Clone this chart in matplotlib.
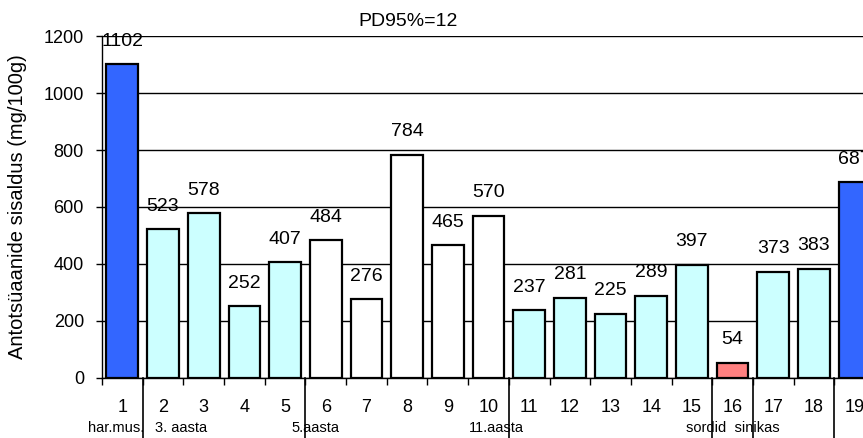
import matplotlib
matplotlib.use("Agg")
import matplotlib.pyplot as plt
import matplotlib.transforms as mtransforms

plt.rcParams['font.family'] = ['Liberation Sans', 'DejaVu Sans']

# Sample numbers and anthocyanin content
categories = [str(i) for i in range(1, 20)]
values = [1102, 523, 578, 252, 407, 484, 276, 784, 465, 570,
          237, 281, 225, 289, 397, 54, 373, 383, 687]
bar_colors = ['#3366FF'] + ['#CCFFFF'] * 4 + ['#FFFFFF'] * 5 + ['#CCFFFF'] * 5 \
             + ['#FF8080'] + ['#CCFFFF'] * 2 + ['#3366FF']

# Group captions under the axis and their centre positions (in category units)
group_labels = ['har.mus.', '3. aasta', '5.aasta', '11.aasta', 'sordid  sinikas']
group_pos = [0.85, 2.45, 5.75, 10.2, 16.0]
# Category boundaries where the group separators are drawn
separators = [1.5, 5.5, 10.5, 15.5, 16.5, 18.5]

title_text = 'PD95%=12'
y_label = 'Antotsüaanide sisaldus (mg/100g)'
y_ticks = [0, 200, 400, 600, 800, 1000, 1200]

fig = plt.figure(figsize=(8.63, 4.38), dpi=100)
ax = fig.add_axes([0.1182, 0.1370, 0.8957, 0.7808])

x = list(range(1, len(values) + 1))
ax.bar(x, values, width=0.78, color=bar_colors, edgecolor='black',
       linewidth=1.6, zorder=3)

for xi, v in zip(x, values):
    ax.annotate(str(v), (xi, v), xytext=(0, 16.5), textcoords='offset points',
                ha='center', va='center', fontsize=14, zorder=4,
                annotation_clip=False)

ax.set_xlim(0.5, 19.5)
ax.set_ylim(0, 1200)
ax.set_yticks(y_ticks)
ax.set_yticklabels([str(t) for t in y_ticks], fontsize=13)
ax.tick_params(axis='y', direction='out', length=4, width=1, pad=9)

ax.set_xticks(x)
ax.set_xticklabels(categories, fontsize=13)
ax.tick_params(axis='x', which='major', length=0, pad=15)
ax.set_xticks([b + 0.5 for b in range(0, 20)], minor=True)
ax.tick_params(axis='x', which='minor', direction='out', length=5, width=1)

ax.grid(axis='y', color='black', linewidth=1.0, zorder=0)
ax.set_axisbelow(True)
for side in ('top', 'right'):
    ax.spines[side].set_visible(False)
ax.spines['left'].set_linewidth(1.0)
ax.spines['bottom'].set_linewidth(1.0)

ax.set_ylabel(y_label, fontsize=14.5)
ax.yaxis.set_label_coords(-0.097, 0.5)

trans = mtransforms.blended_transform_factory(ax.transData, ax.transAxes)
for b in separators:
    ax.plot([b, b], [0, -0.2], transform=trans, color='black',
             linewidth=1.2, clip_on=False, zorder=5)
for lbl, pos in zip(group_labels, group_pos):
    ax.text(pos, -0.147, lbl, transform=trans, ha='center', va='center',
            fontsize=10.5)

fig.text(408 / 863, 1 - 21 / 438, title_text, ha='center', va='center',
         fontsize=14)

fig.savefig('out.png', dpi=100)
